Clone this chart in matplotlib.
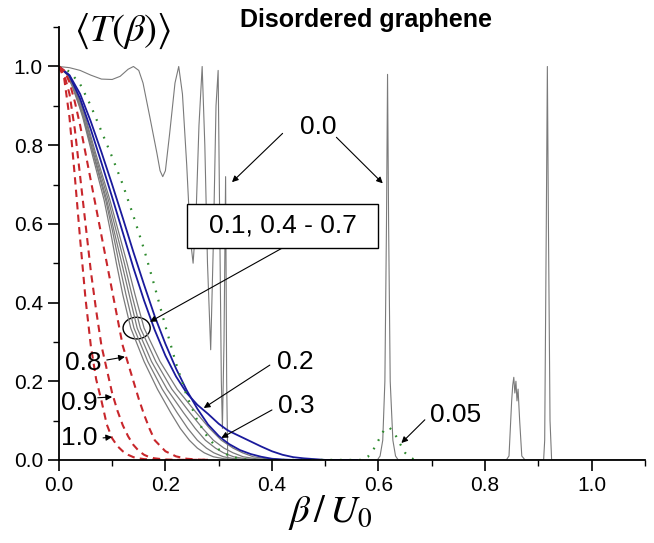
import numpy as np
import matplotlib
matplotlib.use('Agg')
import matplotlib.pyplot as plt
from matplotlib.patches import Ellipse, Rectangle

plt.rcParams['font.family'] = ['Liberation Sans', 'DejaVu Sans']
plt.rcParams['mathtext.fontset'] = 'stix'

# disorder 0.0 : ordered lattice, resonances
x_00 = [0, 0.02, 0.04, 0.06, 0.08, 0.10, 0.115, 0.13, 0.14, 0.15, 0.158, 0.171, 0.184, 0.19, 0.195,
        0.20, 0.208, 0.218, 0.225, 0.232, 0.24, 0.247, 0.252, 0.257, 0.263, 0.269, 0.274, 0.279,
        0.285, 0.29, 0.295, 0.299, 0.302, 0.305, 0.307, 0.31, 0.313, 0.315, 0.317,
        0.40, 0.598, 0.603, 0.608, 0.612, 0.615, 0.617, 0.619, 0.622, 0.627, 0.632, 0.637,
        0.84, 0.845, 0.85, 0.852, 0.854, 0.856, 0.858, 0.86, 0.862, 0.865, 0.869, 0.875,
        0.91, 0.912, 0.915, 0.917, 0.919, 0.922, 0.925, 1.1]
y_00 = [1.0, 0.997, 0.99, 0.978, 0.968, 0.967, 0.975, 0.993, 1.0, 0.99, 0.958, 0.87, 0.78, 0.735, 0.72,
        0.735, 0.83, 0.958, 1.0, 0.93, 0.75, 0.56, 0.5, 0.6, 0.85, 1.0, 0.8, 0.5,
        0.28, 0.55, 0.9, 0.99, 0.6, 0.2, 0.08, 0.3, 0.72, 0.2, 0.0,
        0.0, 0.0, 0.01, 0.05, 0.2, 0.6, 0.98, 0.6, 0.2, 0.05, 0.01, 0.0,
        0.0, 0.01, 0.15, 0.19, 0.21, 0.17, 0.2, 0.15, 0.18, 0.1, 0.01, 0.0,
        0.0, 0.05, 0.6, 1.0, 0.6, 0.1, 0.0, 0.0]

# disorder 0.1, 0.4 - 0.7 (gray bundle), read as beta at fixed T levels
y_g = [1.0, 0.98, 0.95, 0.9, 0.87, 0.78, 0.66, 0.58, 0.5, 0.42, 0.335,
       0.25, 0.18, 0.12, 0.08, 0.05, 0.03, 0.018, 0.008, 0.003, 0.0, 0.0]
x_g1 = [0, 0.015, 0.025, 0.038, 0.045, 0.062, 0.085, 0.097, 0.108, 0.12, 0.135,
        0.16, 0.185, 0.21, 0.228, 0.245, 0.26, 0.273, 0.29, 0.31, 0.35, 0.5]
x_g2 = [0, 0.015, 0.026, 0.039, 0.046, 0.064, 0.088, 0.101, 0.113, 0.126, 0.141,
        0.167, 0.194, 0.222, 0.242, 0.26, 0.277, 0.291, 0.309, 0.33, 0.37, 0.5]
x_g3 = [0, 0.016, 0.027, 0.04, 0.047, 0.065, 0.09, 0.104, 0.118, 0.132, 0.147,
        0.174, 0.203, 0.234, 0.256, 0.275, 0.294, 0.309, 0.328, 0.35, 0.39, 0.5]
x_g4 = [0, 0.016, 0.028, 0.042, 0.049, 0.067, 0.093, 0.108, 0.123, 0.137, 0.153,
        0.182, 0.212, 0.246, 0.27, 0.29, 0.31, 0.327, 0.346, 0.37, 0.41, 0.5]
x_g5 = [0, 0.017, 0.029, 0.043, 0.05, 0.069, 0.096, 0.112, 0.128, 0.143, 0.16,
        0.19, 0.222, 0.258, 0.283, 0.305, 0.327, 0.345, 0.365, 0.39, 0.43, 0.5]

# disorder 0.2 and 0.3 (blue)
x_b = [0, 0.02, 0.04, 0.06, 0.08, 0.10, 0.12, 0.14, 0.16, 0.18, 0.20, 0.22, 0.24, 0.26,
       0.28, 0.30, 0.31, 0.315, 0.32, 0.34, 0.36, 0.38, 0.40, 0.42, 0.44, 0.46, 0.48, 0.50, 0.56]
y_b02 = [1.0, 0.976, 0.918, 0.84, 0.755, 0.668, 0.578, 0.488, 0.405, 0.33, 0.265, 0.212, 0.17, 0.14,
         0.117, 0.092, 0.082, 0.077, 0.073, 0.06, 0.047, 0.034, 0.022, 0.013, 0.007, 0.004, 0.002, 0.0, 0.0]
y_b03 = [1.0, 0.978, 0.93, 0.86, 0.782, 0.70, 0.615, 0.528, 0.445, 0.365, 0.295, 0.232, 0.177, 0.13,
         0.09, 0.061, 0.05, 0.045, 0.04, 0.025, 0.015, 0.008, 0.003, 0.001, 0.0, 0.0, 0.0, 0.0, 0.0]

# disorder 0.05 (green dotted)
x_05 = [0, 0.02, 0.04, 0.06, 0.08, 0.10, 0.12, 0.14, 0.16, 0.18, 0.20, 0.22, 0.24, 0.26, 0.28,
        0.30, 0.32, 0.34, 0.36, 0.57, 0.58, 0.59, 0.60, 0.61, 0.62, 0.63, 0.64, 0.65, 0.66, 0.67]
y_05 = [1.0, 0.987, 0.955, 0.90, 0.835, 0.77, 0.70, 0.62, 0.535, 0.44, 0.34, 0.245, 0.163, 0.1, 0.056,
        0.027, 0.01, 0.003, 0.0, 0.0, 0.008, 0.025, 0.05, 0.075, 0.083, 0.068, 0.042, 0.018, 0.005, 0.0]

# disorder 0.8, 0.9, 1.0 (red dashed)
x_r = [0, 0.01, 0.02, 0.03, 0.04, 0.05, 0.06, 0.07, 0.08, 0.09, 0.10, 0.11, 0.12, 0.13,
       0.14, 0.15, 0.16, 0.17, 0.18, 0.20, 0.22, 0.24, 0.26, 0.28]
y_r08 = [1.0, 0.99, 0.96, 0.91, 0.85, 0.78, 0.71, 0.64, 0.57, 0.50, 0.43, 0.36, 0.29, 0.245,
         0.20, 0.155, 0.115, 0.08, 0.05, 0.022, 0.009, 0.003, 0.001, 0.0]
y_r09 = [1.0, 0.98, 0.93, 0.84, 0.72, 0.60, 0.48, 0.38, 0.29, 0.23, 0.17, 0.125, 0.088, 0.06,
         0.038, 0.023, 0.013, 0.007, 0.004, 0.001, 0.0, 0.0, 0.0, 0.0]
y_r10 = [1.0, 0.97, 0.87, 0.72, 0.56, 0.41, 0.29, 0.205, 0.15, 0.09, 0.055, 0.035, 0.022, 0.013,
         0.007, 0.004, 0.002, 0.001, 0.0, 0.0, 0.0, 0.0, 0.0, 0.0]

fig = plt.figure(figsize=(6.54, 5.43), dpi=100)
ax = fig.add_axes([0.090, 0.153, 0.896, 0.797])

gray = '#7a7a7a'
ax.plot(x_00, y_00, color=gray, lw=0.8)
for xx in [x_g1, x_g2, x_g3, x_g4, x_g5]:
    ax.plot(xx, y_g, color=gray, lw=0.9)
ax.plot(x_b, y_b02, color='#1a1a9c', lw=1.3)
ax.plot(x_b, y_b03, color='#1a1a9c', lw=1.3)
ax.plot(x_05, y_05, color='#2e8b2e', lw=1.6, dashes=[0.8, 3.5])
for yy in [y_r08, y_r09, y_r10]:
    ax.plot(x_r, yy, color='#c8262b', lw=1.5, dashes=[3.5, 2.5])

ax.set_xlim(0, 1.1)
ax.set_ylim(0, 1.1)
ax.set_xticks([0, 0.2, 0.4, 0.6, 0.8, 1.0])
ax.set_yticks([0, 0.2, 0.4, 0.6, 0.8, 1.0])
ax.set_xticks(np.arange(0, 1.11, 0.1), minor=True)
ax.set_yticks(np.arange(0, 1.11, 0.1), minor=True)
ax.xaxis.set_major_formatter(plt.FormatStrFormatter('%.1f'))
ax.yaxis.set_major_formatter(plt.FormatStrFormatter('%.1f'))
ax.tick_params(which='major', direction='out', length=8, width=1.2, labelsize=15)
ax.tick_params(which='minor', direction='out', length=4.5, width=1.0)
for s in ['top', 'right']:
    ax.spines[s].set_visible(False)
for s in ['left', 'bottom']:
    ax.spines[s].set_linewidth(1.3)
ax.patch.set_visible(False)

fig.text(0.187, 0.943, r'$\left\langle T(\beta)\right\rangle$', fontsize=28,
         ha='center', va='center')
fig.text(0.505, 0.057, r'$\beta\,/\,U_0$', fontsize=28, ha='center', va='center')
fig.text(0.56, 0.963, 'Disordered graphene', fontsize=18, fontweight='bold',
         ha='center', va='center')

ap = dict(arrowstyle='-|>', color='k', lw=0.8, mutation_scale=9, shrinkA=0, shrinkB=0)
fs = 19

ax.text(0.486, 0.846, '0.0', fontsize=fs, ha='center', va='center')
ax.annotate('', xy=(0.325, 0.706), xytext=(0.42, 0.83), arrowprops=ap)
ax.annotate('', xy=(0.608, 0.703), xytext=(0.521, 0.82), arrowprops=ap)

ax.add_patch(Rectangle((0.240, 0.539), 0.36, 0.112, fc='white', ec='k', lw=1.0, zorder=5))
ax.text(0.420, 0.595, '0.1, 0.4 - 0.7', fontsize=fs, ha='center', va='center', zorder=6)
ax.annotate('', xy=(0.171, 0.351), xytext=(0.42, 0.539), arrowprops=ap)
ax.add_patch(Ellipse((0.146, 0.335), 0.051, 0.055, fill=False, ec='k', lw=1.0))

ax.text(0.443, 0.249, '0.2', fontsize=fs, ha='center', va='center')
ax.annotate('', xy=(0.272, 0.132), xytext=(0.396, 0.241), arrowprops=ap)
ax.text(0.446, 0.137, '0.3', fontsize=fs, ha='center', va='center')
ax.annotate('', xy=(0.305, 0.056), xytext=(0.40, 0.127), arrowprops=ap)

ax.text(0.045, 0.246, '0.8', fontsize=fs, ha='center', va='center')
ax.annotate('', xy=(0.124, 0.262), xytext=(0.09, 0.254), arrowprops=ap)
ax.text(0.038, 0.145, '0.9', fontsize=fs, ha='center', va='center')
ax.annotate('', xy=(0.1, 0.16), xytext=(0.073, 0.158), arrowprops=ap)
ax.text(0.039, 0.056, '1.0', fontsize=fs, ha='center', va='center')
ax.annotate('', xy=(0.1, 0.058), xytext=(0.083, 0.056), arrowprops=ap)

ax.text(0.745, 0.114, '0.05', fontsize=fs, ha='center', va='center')
ax.annotate('', xy=(0.643, 0.043), xytext=(0.687, 0.102), arrowprops=ap)

fig.savefig('out.png', dpi=100)
